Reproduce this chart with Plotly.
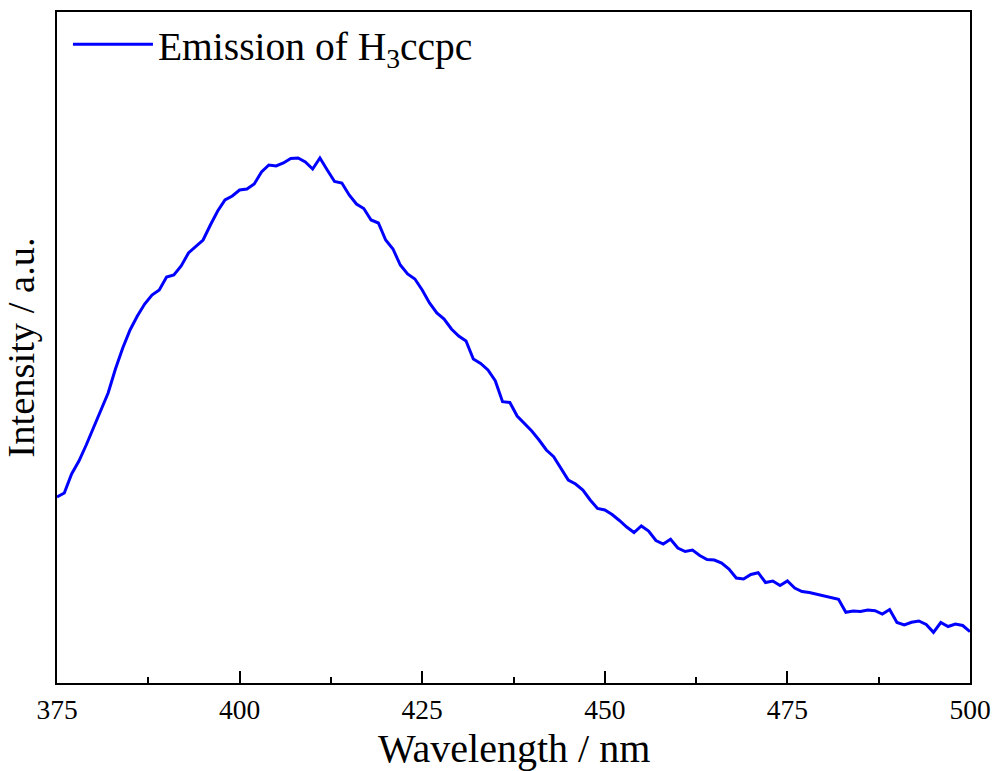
import plotly.graph_objects as go

# Wavelength (nm) and emission intensity (a.u.)
wavelength = [375, 376, 377, 378, 379, 380, 381, 382, 383, 384, 385, 386, 387, 388, 389,
              390, 391, 392, 393, 394, 395, 396, 397, 398, 399, 400, 401, 402, 403, 404,
              405, 406, 407, 408, 409, 410, 411, 412, 413, 414, 415, 416, 417, 418, 419,
              420, 421, 422, 423, 424, 425, 426, 427, 428, 429, 430, 431, 432, 433, 434,
              435, 436, 437, 438, 439, 440, 441, 442, 443, 444, 445, 446, 447, 448, 449,
              450, 451, 452, 453, 454, 455, 456, 457, 458, 459, 460, 461, 462, 463, 464,
              465, 466, 467, 468, 469, 470, 471, 472, 473, 474, 475, 476, 477, 478,
              482, 483, 484, 485, 486, 487, 488, 489, 490, 491, 492, 493, 494, 495, 496,
              497, 498, 499, 500]

intensity = [186, 190, 209, 222, 238, 255, 272, 290, 314, 335, 353, 367, 379, 388, 393,
             406, 408, 417, 430, 437, 443, 458, 472, 483, 487, 493, 494, 499, 511, 518,
             517, 520, 524.5, 525, 521, 514, 525, 513, 501.5, 500, 488, 479, 474.5, 463, 460,
             443, 434, 418, 409, 404, 393, 380, 370, 364, 354, 347, 342, 324, 319.5, 313,
             302.3, 281.3, 280.5, 267, 259.5, 252, 243, 233, 226.3, 214, 203, 199, 193, 183, 174.5,
             173, 168.5, 162.5, 156, 150.5, 157, 152, 142.5, 139, 143.7, 135, 131.5, 133, 127.5, 123.5,
             123, 120, 114, 105, 104, 108.5, 110.3, 100.5, 102, 97.5, 102, 95, 91.5, 90.5,
             83.7, 70.7, 72, 71.5, 73, 72.3, 69, 73.5, 60.5, 58, 60.7, 62, 58.5, 50.7, 60.5,
             56.5, 59, 57.5, 51.3]

legend_name = "Emission of H<sub>3</sub>ccpc"
x_title = "Wavelength / nm"
y_title = "Intensity / a.u."

FONT = "Liberation Serif"

fig = go.Figure()
fig.add_trace(go.Scatter(
    x=wavelength, y=intensity, mode="lines", name=legend_name,
    line=dict(color="#0000FF", width=3),
))

fig.update_layout(
    width=996, height=771,
    margin=dict(l=57, r=26, t=12, b=88, autoexpand=False),
    paper_bgcolor="white", plot_bgcolor="white",
    font=dict(family=FONT, color="black"),
    showlegend=True,
    legend=dict(
        x=0.012, y=1.0, xanchor="left", yanchor="top",
        bgcolor="rgba(0,0,0,0)", borderwidth=0,
        font=dict(family=FONT, size=39.5, color="black"),
        itemwidth=80,
    ),
    annotations=[dict(
        text=x_title, xref="paper", yref="paper", x=0.5, y=-0.0969,
        xanchor="center", yanchor="middle", showarrow=False,
        font=dict(family=FONT, size=40, color="black"),
    )],
)

fig.update_xaxes(
    range=[375, 500], dtick=25, tick0=375, automargin=False,
    showline=True, linecolor="black", linewidth=2, mirror=True,
    ticks="inside", ticklen=12, tickwidth=2, tickcolor="black",
    minor=dict(ticks="inside", ticklen=6, tickwidth=2, tickcolor="black", dtick=12.5, tick0=375),
    showgrid=False, zeroline=False,
    tickfont=dict(family=FONT, size=27.5, color="black"),
    ticklabelstandoff=1,
)
fig.update_yaxes(
    range=[0, 671], automargin=False,
    showline=True, linecolor="black", linewidth=2, mirror=True,
    ticks="", showticklabels=False, showgrid=False, zeroline=False,
    title=dict(text=y_title, font=dict(family=FONT, size=38.5, color="black"), standoff=12),
)

fig.write_html("out.html")
